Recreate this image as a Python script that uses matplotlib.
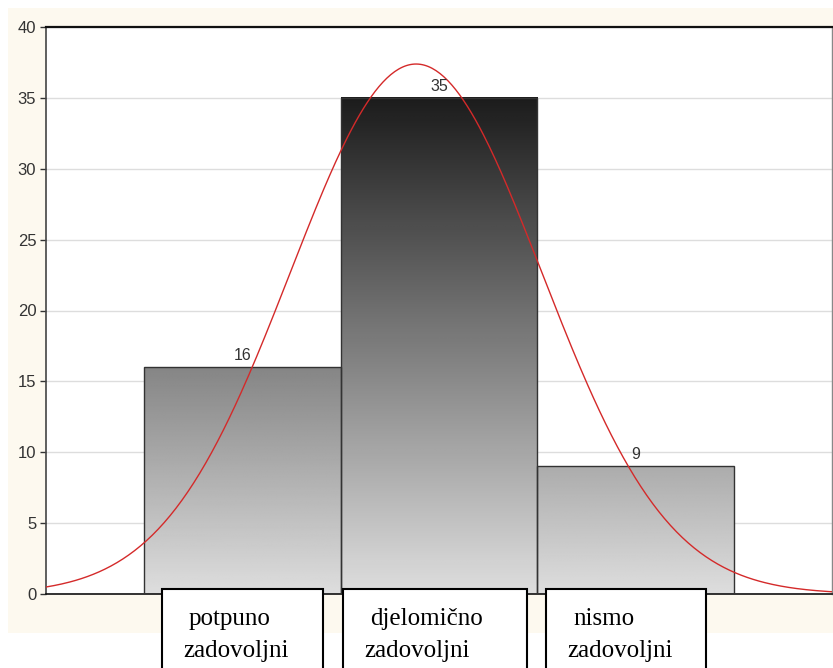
import numpy as np
import matplotlib.pyplot as plt
from matplotlib.patches import Rectangle

# data
categories = ["potpuno\nzadovoljni", "djelomično\nzadovoljni", "nismo\nzadovoljni"]
counts = [16, 35, 9]
y_ticks = [0, 5, 10, 15, 20, 25, 30, 35, 40]

W, H = 833, 668
fig = plt.figure(figsize=(W / 100, H / 100), dpi=100)
fig.patch.set_facecolor('white')

def fx(px):
    return px / W

def fy(py):
    return 1 - py / H

# cream panel behind the plot
fig.patches.append(Rectangle((fx(8), fy(633)), 1, fy(8) - fy(633), transform=fig.transFigure,
                             facecolor='#fdf9ef', edgecolor='none', zorder=-5))

ax = fig.add_axes([fx(46), fy(594), fx(832) - fx(46), fy(27) - fy(594)])
ax.set_facecolor('white')

x = np.arange(len(counts))
width = 1.0
top_val = max(counts)

# bars with vertical grey gradient (dark at top, light at bottom)
for xi, c in zip(x, counts):
    ys = np.linspace(c, 0, 200)
    shade = 0.87 - 0.76 * ys / top_val
    ax.imshow(shade[:, None], cmap='gray', vmin=0, vmax=1, aspect='auto',
              extent=[xi - width / 2, xi + width / 2, 0, c], zorder=2, interpolation='bilinear')
    ax.add_patch(Rectangle((xi - width / 2, 0), width, c, facecolor='none',
                           edgecolor='#333333', linewidth=1, zorder=3))
    ax.annotate(str(c), (xi, c), xytext=(0, 3), textcoords='offset points',
                ha='center', va='bottom', fontsize=11.5, color='#333333',
                family='Liberation Sans', zorder=6)

# fitted normal curve
n = sum(counts)
mean = np.dot(x, counts) / n
sd = np.sqrt(np.dot((x - mean) ** 2, counts) / (n - 1))
xc = np.linspace(-1, 3, 400)
yc = n * width / (sd * np.sqrt(2 * np.pi)) * np.exp(-0.5 * ((xc - mean) / sd) ** 2)
ax.plot(xc, yc, color='#d42a2a', linewidth=1, zorder=5)

ax.set_xlim(-1, 3)
ax.set_ylim(0, 40)
ax.set_yticks(y_ticks)
ax.set_xticks([])
ax.yaxis.grid(True, color='#dddddd', linewidth=1)
ax.set_axisbelow(True)
ax.tick_params(axis='y', length=4, width=1, color='#333333', labelsize=12,
               labelcolor='#333333', pad=3)
for lab in ax.get_yticklabels():
    lab.set_family('Liberation Sans')
ax.spines['top'].set_color('#111111')
ax.spines['top'].set_linewidth(1.6)
ax.spines['bottom'].set_color('#111111')
ax.spines['bottom'].set_linewidth(1.2)
ax.spines['left'].set_color('#444444')
ax.spines['left'].set_linewidth(1.2)
ax.spines['right'].set_color('#888888')
ax.spines['right'].set_linewidth(1)

# category boxes under the bars
boxes = [(162, 323), (343, 527), (546, 706)]
for (bx0, bx1), cat in zip(boxes, categories):
    fig.patches.append(Rectangle((fx(bx0), -0.01), fx(bx1) - fx(bx0), fy(589) + 0.01,
                                 transform=fig.transFigure, facecolor='white',
                                 edgecolor='black', linewidth=1.5, zorder=10))
    line1, line2 = cat.split("\n")
    fig.text(fx(bx0 + 27), fy(625), line1, ha='left', va='baseline', fontsize=18,
             family='Liberation Serif', color='black', zorder=11)
    fig.text(fx(bx0 + 21), fy(657), line2, ha='left', va='baseline', fontsize=18,
             family='Liberation Serif', color='black', zorder=11)

fig.savefig('out.png', dpi=100)
